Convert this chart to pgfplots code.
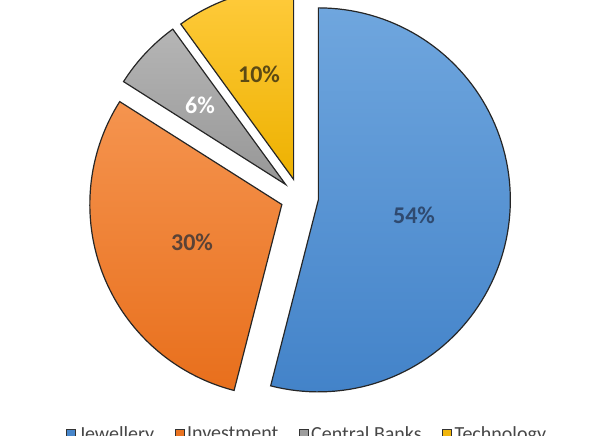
\documentclass[border=0pt]{standalone}
\usepackage{fontspec}
\setmainfont{Carlito}
\usepackage{pgfplots}
\usepackage{pgfplotstable}
\pgfplotsset{compat=1.18}

\definecolor{jewTop}{HTML}{6FA6DE}
\definecolor{jewBot}{HTML}{4383C9}
\definecolor{invTop}{HTML}{F5944F}
\definecolor{invBot}{HTML}{E86F1C}
\definecolor{cbTop}{HTML}{B5B5B5}
\definecolor{cbBot}{HTML}{979797}
\definecolor{tecTop}{HTML}{FFCB3C}
\definecolor{tecBot}{HTML}{EDB100}
\definecolor{lblJew}{HTML}{2F4A70}
\definecolor{lblInv}{HTML}{5A4236}
\definecolor{lblTec}{HTML}{5C4A14}

% shares in percent, clockwise from 12 o'clock
\pgfplotstableread{
share
54
30
6
10
}\slices

% pie geometry in px of the 600x436 frame
\def\cx{299.5}
\def\cy{238.5}
\def\R{192}
\def\ex{19}

\newcommand\slice[4]{%
  \pgfmathsetmacro\sm{(#1+#2)/2}%
  \pgfmathsetmacro\ox{\cx+\ex*sin(\sm)}%
  \pgfmathsetmacro\oy{\cy+\ex*cos(\sm)}%
  \edef\slicecmd{\noexpand\addplot[forget plot, draw=black!85, line width=1.2bp,
      top color=#3, bottom color=#4, domain=#1:#2, samples=100,
      variable=\noexpand\t]
    ({\ox+\R*sin(\noexpand\t)}, {\oy+\R*cos(\noexpand\t)}) -- (axis cs:\ox,\oy) -- cycle;}%
  \slicecmd}

\begin{document}
\begin{tikzpicture}
\pgfplotstablegetelem{0}{share}\of\slices \pgfmathsetmacro\eA{3.6*\pgfplotsretval}
\pgfplotstablegetelem{1}{share}\of\slices \pgfmathsetmacro\eB{\eA+3.6*\pgfplotsretval}
\pgfplotstablegetelem{2}{share}\of\slices \pgfmathsetmacro\eC{\eB+3.6*\pgfplotsretval}
\pgfplotstablegetelem{3}{share}\of\slices \pgfmathsetmacro\eD{\eC+3.6*\pgfplotsretval}
\useasboundingbox (0,0) rectangle (600bp,436bp);
\clip (0,0) rectangle (600bp,436bp);
\begin{axis}[
    at={(0,0)}, anchor=south west,
    width=600bp, height=436bp, scale only axis,
    xmin=0, xmax=600, ymin=0, ymax=436,
    hide axis, clip=false,
    legend columns=4,
    legend image code/.code={\draw[#1, line width=0.8bp] (0bp,-4.5bp) rectangle (9bp,4.5bp);},
    legend style={at={(0.5125,0.004)}, anchor=center, draw=none, fill=none,
      font=\fontsize{20bp}{24bp}\selectfont, text=black!72,
      nodes={inner sep=2.5bp},
      /tikz/every even column/.append style={column sep=18bp}},
  ]
  \slice{0}{\eA}{jewTop}{jewBot}
  \slice{\eA}{\eB}{invTop}{invBot}
  \slice{\eB}{\eC}{cbTop}{cbBot}
  \slice{\eC}{\eD}{tecTop}{tecBot}

  \addlegendimage{fill=jewBot!90!jewTop, draw=black!80}
  \addlegendentry{Jewellery}
  \addlegendimage{fill=invBot!90!invTop, draw=black!80}
  \addlegendentry{Investment}
  \addlegendimage{fill=cbBot!80!cbTop, draw=black!80}
  \addlegendentry{Central Banks}
  \addlegendimage{fill=tecBot!80!tecTop, draw=black!80}
  \addlegendentry{Technology}

  \begin{scope}[font=\fontsize{24bp}{28bp}\selectfont\bfseries]
    \node[text=lblJew] at (axis cs:414,221) {54\%};
    \node[text=lblInv] at (axis cs:192,194) {30\%};
    \node[text=white]  at (axis cs:200,331) {6\%};
    \node[text=lblTec] at (axis cs:259,362) {10\%};
  \end{scope}
\end{axis}
\end{tikzpicture}
\end{document}
